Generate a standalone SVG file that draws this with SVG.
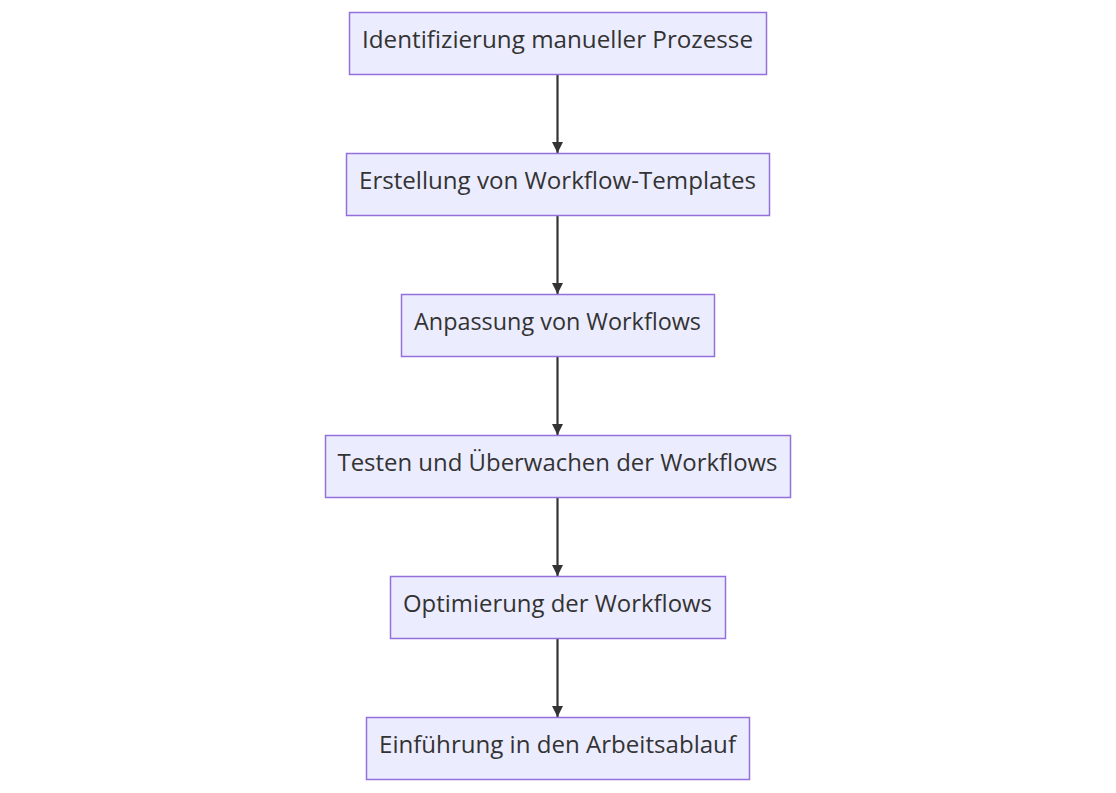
<svg xmlns="http://www.w3.org/2000/svg" width="1116" height="793" viewBox="0 0 1116 793">
<defs>
<style>
.node rect{fill:#ECECFF;stroke:#9370DB;stroke-width:1.5}
.node text{font-family:"Open Sans","DejaVu Sans",sans-serif;font-size:23.5px;fill:#333333;text-anchor:middle}
.edge{stroke:#333333;stroke-width:2.2;fill:none}
</style>
<marker id="arrow" viewBox="0 0 10 10" refX="10" refY="5" markerWidth="5.5" markerHeight="5" markerUnits="strokeWidth" orient="auto">
<path d="M0,0 L10,5 L0,10 z" fill="#333333"/>
</marker>
</defs>
<rect width="1116" height="793" fill="#ffffff"/>
<g id="connectors">
<line class="edge" x1="557.5" y1="74" x2="557.5" y2="153" marker-end="url(#arrow)"/>
<line class="edge" x1="557.5" y1="215" x2="557.5" y2="294" marker-end="url(#arrow)"/>
<line class="edge" x1="557.5" y1="356" x2="557.5" y2="435" marker-end="url(#arrow)"/>
<line class="edge" x1="557.5" y1="497" x2="557.5" y2="576" marker-end="url(#arrow)"/>
<line class="edge" x1="557.5" y1="638" x2="557.5" y2="717" marker-end="url(#arrow)"/>
</g>
<g id="n1" class="node"><rect x="349.5" y="12.5" width="417" height="62"/><text x="557.5" y="48" textLength="391" lengthAdjust="spacingAndGlyphs">Identifizierung manueller Prozesse</text></g>
<g id="n2" class="node"><rect x="346.5" y="153.5" width="423" height="62"/><text x="557.5" y="189" textLength="397" lengthAdjust="spacingAndGlyphs">Erstellung von Workflow-Templates</text></g>
<g id="n3" class="node"><rect x="401.5" y="294.5" width="313" height="62"/><text x="557.5" y="330" textLength="287" lengthAdjust="spacingAndGlyphs">Anpassung von Workflows</text></g>
<g id="n4" class="node"><rect x="325.5" y="435.5" width="465" height="62"/><text x="557.5" y="471" textLength="440" lengthAdjust="spacingAndGlyphs">Testen und Überwachen der Workflows</text></g>
<g id="n5" class="node"><rect x="390.5" y="576.5" width="335" height="62"/><text x="557.5" y="612" textLength="309" lengthAdjust="spacingAndGlyphs">Optimierung der Workflows</text></g>
<g id="n6" class="node"><rect x="366.5" y="717.5" width="383" height="62"/><text x="557.5" y="753" textLength="357" lengthAdjust="spacingAndGlyphs">Einführung in den Arbeitsablauf</text></g>
</svg>
